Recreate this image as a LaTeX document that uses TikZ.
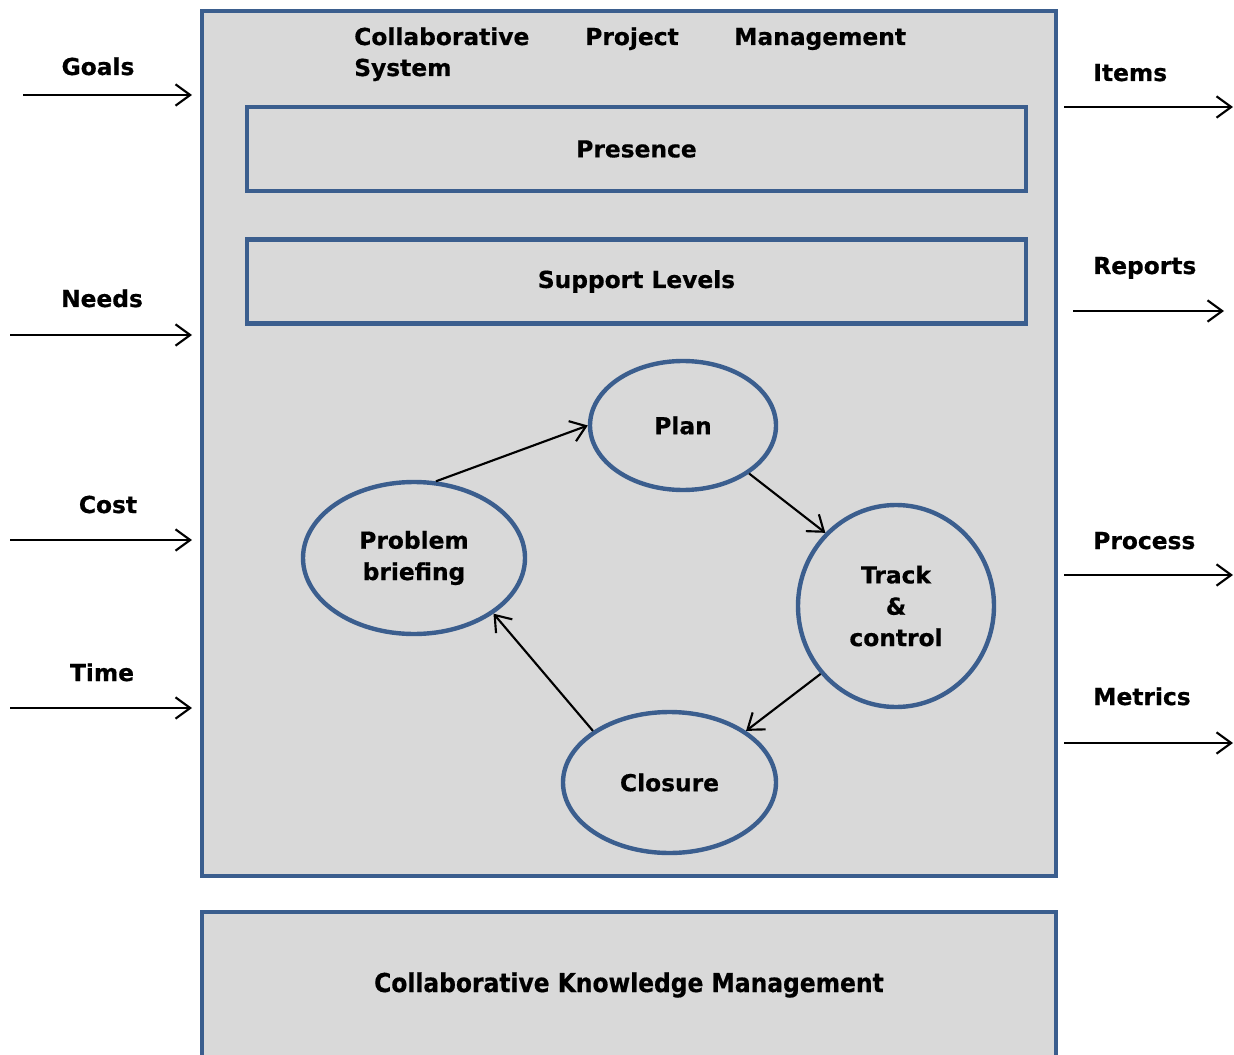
\documentclass[tikz,border=0pt]{standalone}
\usepackage{fontspec}
\setmainfont{DejaVu Sans}[BoldFeatures={FakeBold=0.6}]
\newfontfamily\condfont{DejaVu Sans Condensed}[BoldFeatures={FakeBold=0.6}]
\usetikzlibrary{shapes.geometric,arrows.meta}
\definecolor{boxblue}{HTML}{3B5E8E}
\definecolor{boxgray}{HTML}{D9D9D9}
\newcommand{\lblfont}{\fontsize{17.5}{23.5}\selectfont\bfseries}
\begin{document}
\begin{tikzpicture}[x=0.75pt,y=-0.75pt,
  blu/.style={draw=boxblue, line width=3.3pt, fill=boxgray},
  ell/.style={ellipse, blu, inner sep=0pt, align=center, font=\lblfont},
  rbox/.style={rectangle, blu, inner sep=0pt, font=\lblfont, minimum width=584.25pt, minimum height=63pt},
  lbl/.style={inner sep=0pt, font=\lblfont},
  arr/.style={-{Straight Barb[length=11pt,width=16pt]}, line width=1.6pt, black}]
\useasboundingbox (0,0) rectangle (1234,1055);
\clip (0,0) rectangle (1234,1055);
% main boxes
\draw[blu] (202,11) rectangle (1056,876);
\draw[blu] (202,912) rectangle (1056,1090);
\node[lbl, font=\condfont\fontsize{19.5}{24}\selectfont\bfseries, anchor=base] (ckm) at (629,992) {Collaborative Knowledge Management};
% title
\node[lbl, anchor=base west] (t1) at (354,45) {Collaborative};
\node[lbl, anchor=base west] (t2) at (585,45) {Project};
\node[lbl, anchor=base west] (t3) at (734,45) {Management};
\node[lbl, anchor=base west] (t4) at (354,76) {System};
% inner boxes
\node[rbox] (pres) at (636.5,149) {Presence};
\node[rbox] (supp) at (636.5,281.5) {Support Levels};
% ellipses
\node[ell, minimum width=139.5pt, minimum height=96.75pt] (plan) at (683,425.5) {Plan};
\node[ell, minimum width=166.5pt, minimum height=114pt] (prob) at (414,558) {Problem\\briefing};
\node[ell, minimum width=147pt, minimum height=151.5pt] (track) at (896,606) {Track\\\&\\control};
\node[ell, minimum width=159.75pt, minimum height=105.75pt] (clos) at (669.5,782.5) {Closure};
% cycle arrows
\draw[arr] (prob.74) -- (plan.180);
\draw[arr] (plan.-36) -- (track.134);
\draw[arr] (track.222) -- (clos.34);
\draw[arr] (clos.146) -- (prob.-35);
% left inputs
\node[lbl, anchor=base] (goals) at (98,75) {Goals};
\node[lbl, anchor=base] (needs) at (102,307) {Needs};
\node[lbl, anchor=base] (cost) at (108,513) {Cost};
\node[lbl, anchor=base] (time) at (102,681) {Time};
\coordinate (g0) at (23,95); \coordinate (g1) at (192,95);
\coordinate (n0) at (10,335); \coordinate (n1) at (192,335);
\coordinate (c0) at (10,540); \coordinate (c1) at (192,540);
\coordinate (m0) at (10,708); \coordinate (m1) at (192,708);
\draw[arr] (g0) -- (g1);
\draw[arr] (n0) -- (n1);
\draw[arr] (c0) -- (c1);
\draw[arr] (m0) -- (m1);
% right outputs
\node[lbl, anchor=base west] (items) at (1093,81) {Items};
\node[lbl, anchor=base west] (reports) at (1093,274) {Reports};
\node[lbl, anchor=base west] (process) at (1093,549) {Process};
\node[lbl, anchor=base west] (metrics) at (1093,705) {Metrics};
\coordinate (i0) at (1064,107); \coordinate (i1) at (1233,107);
\coordinate (r0) at (1073,311); \coordinate (r1) at (1224,311);
\coordinate (p0) at (1064,575); \coordinate (p1) at (1233,575);
\coordinate (x0) at (1064,743); \coordinate (x1) at (1233,743);
\draw[arr] (i0) -- (i1);
\draw[arr] (r0) -- (r1);
\draw[arr] (p0) -- (p1);
\draw[arr] (x0) -- (x1);
\end{tikzpicture}
\end{document}
